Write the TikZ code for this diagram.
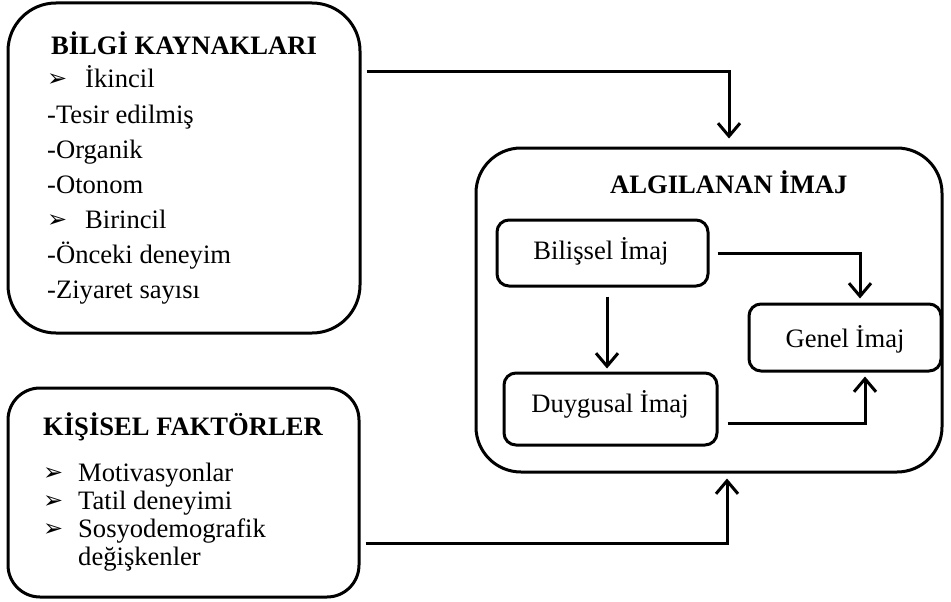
\documentclass[tikz,border=0pt]{standalone}
\usepackage{fontspec}
\setmainfont{Liberation Serif}
\newfontfamily\dvs{DejaVu Sans}
\usetikzlibrary{arrows.meta}
\newcommand{\bul}{\raisebox{1pt}{\dvs\fontsize{24}{24}\selectfont ➢}}
\begin{document}
\begin{tikzpicture}[x=1pt,y=-1pt,
  box/.style={draw,line width=3pt,inner sep=0pt},
  txt/.style={inner sep=0pt,font=\fontsize{26.6}{30}\selectfont},
  conn/.style={line width=3pt,-{Straight Barb[length=13pt,width=22pt]}}]
\useasboundingbox (0,0) rectangle (951,602);
% outer boxes
\node[box,rounded corners=48pt,minimum width=352pt,minimum height=330pt] (bilgi) at (184,168) {};
\node[box,rounded corners=32pt,minimum width=351pt,minimum height=209pt] (kisisel) at (183.5,492.5) {};
\node[box,rounded corners=45pt,minimum width=466pt,minimum height=324pt] (algi) at (709,310) {};
% inner boxes
\node[box,rounded corners=12pt,minimum width=211pt,minimum height=66pt] (bilissel) at (602.5,253) {};
\node[box,rounded corners=12pt,minimum width=213pt,minimum height=72pt] (duygusal) at (610.5,409) {};
\node[box,rounded corners=12pt,minimum width=192pt,minimum height=67pt] (genel) at (845,337.5) {};
% texts: bilgi kaynaklari
\node[txt,anchor=base] (b0) at (184,55) {\textbf{BİLGİ KAYNAKLARI}};
\node[txt,anchor=base west] (b1) at (47,88) {\makebox[38pt][l]{\bul}İkincil};
\node[txt,anchor=base west] (b2) at (47,123) {-Tesir edilmiş};
\node[txt,anchor=base west] (b3) at (47,158) {-Organik};
\node[txt,anchor=base west] (b4) at (47,193) {-Otonom};
\node[txt,anchor=base west] (b5) at (47,228) {\makebox[38pt][l]{\bul}Birincil};
\node[txt,anchor=base west] (b6) at (47,263) {-Önceki deneyim};
\node[txt,anchor=base west] (b7) at (47,298) {-Ziyaret sayısı};
% texts: kisisel faktorler
\node[txt,anchor=base west] (k0) at (43,435) {\textbf{KİŞİSEL FAKTÖRLER}};
\node[txt,anchor=base west] (k1) at (43,481) {\makebox[35pt][l]{\bul}Motivasyonlar};
\node[txt,anchor=base west] (k2) at (43,509) {\makebox[35pt][l]{\bul}Tatil deneyimi};
\node[txt,anchor=base west] (k3) at (43,537) {\makebox[35pt][l]{\bul}Sosyodemografik};
\node[txt,anchor=base west] (k4) at (78,565) {değişkenler};
% texts: algilanan imaj
\node[txt,anchor=base west] (a0) at (610,193) {\textbf{ALGILANAN İMAJ}};
\node[txt,anchor=base] (a1) at (601,259) {Bilişsel İmaj};
\node[txt,anchor=base] (a2) at (610,412) {Duygusal İmaj};
\node[txt,anchor=base] (a3) at (845,347) {Genel İmaj};
% connectors
\draw[conn] ([xshift=5pt]bilgi.east |- 0,72) -| ([xshift=20pt,yshift=8pt]algi.north);
\draw[conn] ([xshift=5pt]kisisel.east |- 0,543) -| ([xshift=18pt,yshift=-5pt]algi.south);
\draw[conn] ([xshift=8pt]bilissel.east) -| ([xshift=15pt,yshift=4pt]genel.north);
\coordinate (bd) at ([xshift=4.5pt,yshift=-9pt]bilissel.south);
\draw[conn,shorten >=3pt] (bd) -- (bd |- duygusal.north);
\draw[conn] ([xshift=9pt,yshift=-14pt]duygusal.east) -| ([xshift=20pt,yshift=-4pt]genel.south);
\end{tikzpicture}
\end{document}
